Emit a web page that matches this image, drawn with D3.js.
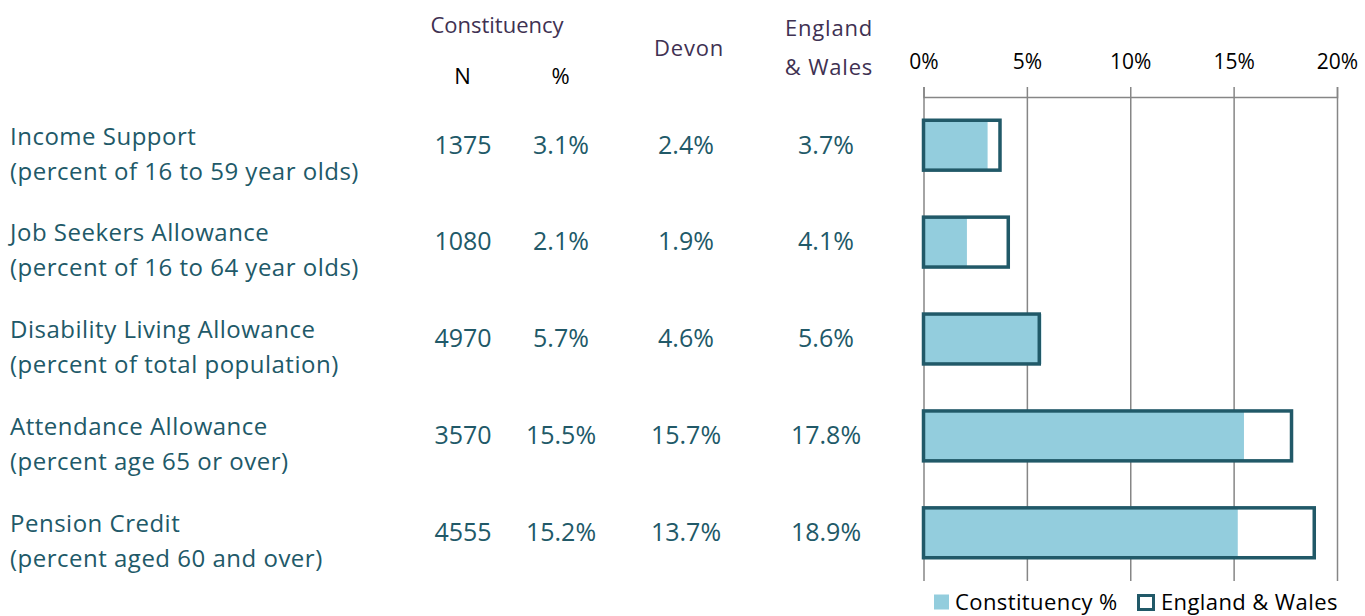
<!DOCTYPE html>
<html>
<head>
<meta charset="utf-8">
<script src="https://cdn.jsdelivr.net/npm/d3@7"></script>
<style>
  body { margin: 0; background: #fff; }
  svg text { font-family: "Open Sans", sans-serif; }
</style>
</head>
<body>
<div id="chart"></div>
<script>
var benefits = ["Income Support", "Job Seekers Allowance", "Disability Living Allowance", "Attendance Allowance", "Pension Credit"];
var subtitles = ["(percent of 16 to 59 year olds)", "(percent of 16 to 64 year olds)", "(percent of total population)", "(percent age 65 or over)", "(percent aged 60 and over)"];
var constituencyN = [1375, 1080, 4970, 3570, 4555];
var constituencyPct = [3.1, 2.1, 5.7, 15.5, 15.2];
var devonPct = [2.4, 1.9, 4.6, 15.7, 13.7];
var englandWalesPct = [3.7, 4.1, 5.6, 17.8, 18.9];
var axisTicks = [0, 5, 10, 15, 20];

const width = 1365, height = 616;
const teal = "#215968", lightBlue = "#93cddd", purple = "#403152", grid = "#868686";

var svg = d3.select("#chart").append("svg")
    .attr("width", width)
    .attr("height", height);

var x = d3.scaleLinear().domain([0, 20]).range([923.5, 1337]);
var y = d3.scaleBand().domain(benefits).range([97, 581]).paddingInner(0.485).paddingOuter(0.24);

// gridlines
svg.append("g")
    .attr("transform", "translate(0,97)")
    .call(d3.axisBottom(x).tickValues(axisTicks).tickSize(484).tickFormat(""))
    .call(g => g.select(".domain").remove())
    .selectAll("line").attr("stroke", grid).attr("stroke-width", 1.5);

// top axis
var ax = svg.append("g")
    .attr("transform", "translate(0,97)")
    .call(d3.axisTop(x).tickValues(axisTicks).tickSize(10).tickPadding(18).tickSizeOuter(10)
        .tickFormat(d => d + "%"));
ax.select(".domain").attr("stroke", grid).attr("stroke-width", 1.5);
ax.selectAll("line").attr("stroke", grid).attr("stroke-width", 1.5);
ax.selectAll("text").attr("fill", "#000").style("font-size", "21px").style("font-family", "'Open Sans', sans-serif");

// bars
var rows = svg.selectAll(".row")
    .data(benefits)
    .enter().append("g")
    .attr("class", "row");

rows.append("rect")
    .attr("x", x(0))
    .attr("y", d => y(d))
    .attr("width", (d, i) => x(constituencyPct[i]) - x(0))
    .attr("height", y.bandwidth())
    .attr("fill", lightBlue);

rows.append("rect")
    .attr("x", x(0))
    .attr("y", d => y(d))
    .attr("width", (d, i) => x(englandWalesPct[i]) - x(0))
    .attr("height", y.bandwidth())
    .attr("fill", "none")
    .attr("stroke", teal)
    .attr("stroke-width", 3.5);

// table text
function cy(d) { return y(d) + y.bandwidth() / 2; }

rows.append("text")
    .attr("x", 10).attr("y", d => cy(d) - 0.7)
    .attr("fill", teal).style("font-size", "24px").style("letter-spacing", "0.5px")
    .text(d => d);
rows.append("text")
    .attr("x", 10).attr("y", d => cy(d) + 34.3)
    .attr("fill", teal).style("font-size", "24px").style("letter-spacing", "0.5px")
    .text((d, i) => subtitles[i]);

var cols = [
    { x: 463, vals: constituencyN.map(String) },
    { x: 561, vals: constituencyPct.map(v => v.toFixed(1) + "%") },
    { x: 686, vals: devonPct.map(v => v.toFixed(1) + "%") },
    { x: 826, vals: englandWalesPct.map(v => v.toFixed(1) + "%") }
];
cols.forEach(c => {
    rows.append("text")
        .attr("x", c.x).attr("y", d => cy(d) + 8.3)
        .attr("text-anchor", "middle")
        .attr("fill", teal).style("font-size", "25px")
        .text((d, i) => c.vals[i]);
});

// headers
var headers = [
    { t: "Constituency", x: 497, y: 25, c: purple },
    { t: "N", x: 463, y: 76, c: "#000" },
    { t: "%", x: 561, y: 76, c: "#000" },
    { t: "Devon", x: 689, y: 48, c: purple },
    { t: "England", x: 829, y: 28, c: purple },
    { t: "& Wales", x: 829, y: 67, c: purple }
];
svg.selectAll(".hdr")
    .data(headers)
    .enter().append("text")
    .attr("class", "hdr")
    .attr("x", d => d.x).attr("y", d => d.y).attr("dy", ".35em")
    .attr("text-anchor", "middle")
    .attr("fill", d => d.c).style("font-size", "22px")
    .style("letter-spacing", d => d.t === "Constituency" ? "0px" : "0.8px")
    .text(d => d.t);

// legend
var lg = svg.append("g").attr("transform", "translate(934,602)");
lg.append("rect").attr("x", 0).attr("y", -7.5).attr("width", 15).attr("height", 15).attr("fill", lightBlue);
lg.append("text").attr("x", 21).attr("y", 7.5).style("font-size", "22px").style("letter-spacing", "0.4px").attr("fill", "#000").text("Constituency %");
lg.append("rect").attr("x", 204.5).attr("y", -6.5).attr("width", 15).attr("height", 14).attr("fill", "#fff").attr("stroke", teal).attr("stroke-width", 3);
lg.append("text").attr("x", 227).attr("y", 7.5).style("font-size", "22px").style("letter-spacing", "0.4px").attr("fill", "#000").text("England & Wales");
</script>
</body>
</html>
